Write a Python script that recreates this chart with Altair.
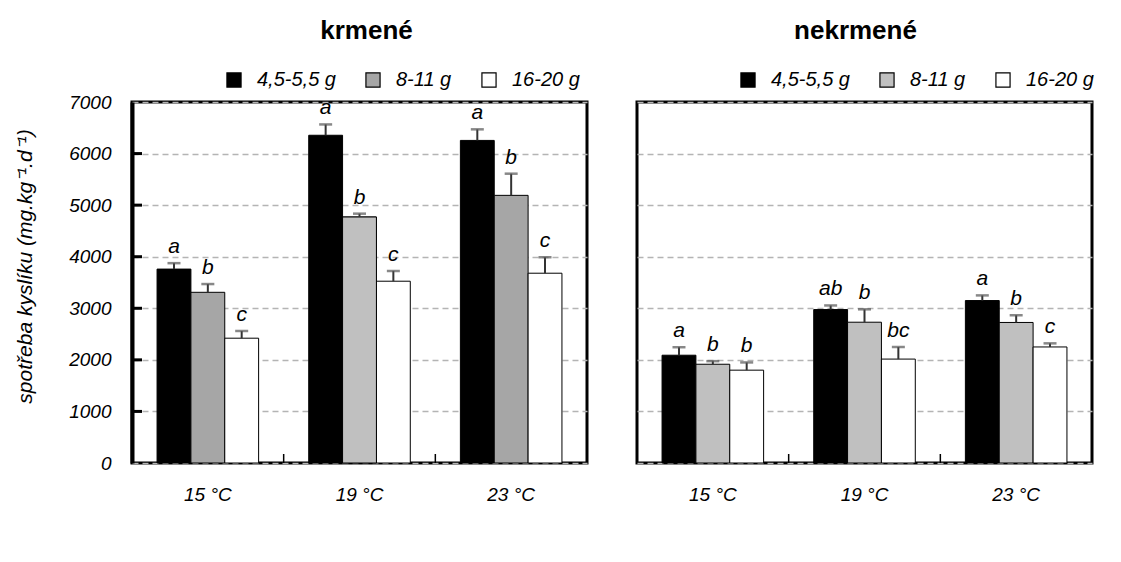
import altair as alt
import pandas as pd

temps = ["15 °C", "19 °C", "23 °C"]
sizes = ["4,5-5,5 g", "8-11 g", "16-20 g"]

fed_means = [[3760, 3310, 2420], [6355, 4770, 3525], [6255, 5190, 3680]]
fed_errs = [[115, 160, 140], [210, 65, 200], [215, 420, 310]]
fed_letters = [["a", "b", "c"], ["a", "b", "c"], ["a", "b", "c"]]

unfed_means = [[2090, 1915, 1800], [2975, 2730, 2015], [3150, 2725, 2250]]
unfed_errs = [[155, 60, 150], [80, 250, 235], [100, 140, 70]]
unfed_letters = [["a", "b", "b"], ["ab", "b", "bc"], ["a", "b", "c"]]

y_ticks = [0, 1000, 2000, 3000, 4000, 5000, 6000, 7000]
inner_ticks = [1000, 2000, 3000, 4000, 5000, 6000]

FONT = "Liberation Sans"
W, H = 455, 361


def make_df(means, errs, letters):
    rows = []
    for i, t in enumerate(temps):
        for j, s in enumerate(sizes):
            rows.append({"temp": t, "size": s, "mean": means[i][j],
                         "top": means[i][j] + errs[i][j], "letter": letters[i][j]})
    return pd.DataFrame(rows)


def panel(df, title, gray, show_y, legend_x, title_dx, extra_gray=None):
    xscale = alt.Scale(domain=temps, paddingInner=0, paddingOuter=0)
    xaxis = alt.Axis(title=None, labelFont=FONT, labelFontStyle="italic", labelFontSize=19,
                     labelColor="black", labelPadding=22, ticks=False, domain=False,
                     labelAngle=0, grid=False)
    yscale = alt.Scale(domain=[0, 7000], nice=False, zero=True)
    if show_y:
        yaxis = alt.Axis(title="spotřeba kyslíku (mg.kg⁻¹.d⁻¹)", titleFont=FONT,
                         titleFontStyle="italic", titleFontWeight="normal", titleFontSize=21,
                         titleColor="black", titlePadding=33, titleY=164,
                         values=y_ticks, format="d", labelFont=FONT, labelFontStyle="italic",
                         labelFontSize=19, labelColor="black", labelPadding=21,
                         ticks=False, domain=True, domainWidth=4, domainColor="black",
                         grid=True, gridDash=[6, 4], gridColor="#b4b4b4", gridWidth=1.5)
    else:
        yaxis = alt.Axis(title=None, labels=False, ticks=False, domain=False,
                         values=y_ticks, grid=True, gridDash=[6, 4], gridColor="#b4b4b4",
                         gridWidth=1.5)

    def X(**kw):
        return alt.X("temp:N", sort=temps, scale=xscale, axis=xaxis, **kw)

    def Y(field):
        return alt.Y(f"{field}:Q", scale=yscale, axis=yaxis)

    xo = alt.XOffset("size:N", sort=sizes,
                     scale=alt.Scale(domain=sizes, paddingInner=0, paddingOuter=0.74))

    color = alt.Color("size:N", sort=sizes,
                      scale=alt.Scale(domain=sizes, range=["#000000", gray, "#ffffff"]),
                      legend=alt.Legend(title=None, orient="none", legendX=legend_x, legendY=-32,
                                        direction="horizontal", labelFont=FONT,
                                        labelFontStyle="italic", labelFontSize=20,
                                        labelColor="black", symbolType="square",
                                        symbolSize=200, symbolStrokeColor="black",
                                        symbolStrokeWidth=1.2, columnPadding=27,
                                        labelOffset=13))

    base = alt.Chart(df)
    bars = base.mark_bar(stroke="black", strokeWidth=1).encode(
        x=X(), xOffset=xo, y=Y("mean"), color=color)
    layers = [bars]
    if extra_gray is not None:
        over = base.transform_filter(
            (alt.datum.temp == "19 °C") & (alt.datum.size == "8-11 g")
        ).mark_bar(stroke="black", strokeWidth=1, fill=extra_gray).encode(
            x=X(), xOffset=xo, y=Y("mean"))
        layers.append(over)
    err = base.mark_rule(color="#333333", strokeWidth=2).encode(
        x=X(), xOffset=xo, y=Y("mean"), y2="top:Q")
    cap = base.mark_tick(color="#555555", orient="horizontal", size=13, thickness=2.5).encode(
        x=X(), xOffset=xo, y=Y("top"))
    txt = base.mark_text(font=FONT, fontStyle="italic", fontSize=21, baseline="bottom",
                         dy=-6, color="black").encode(
        x=X(), xOffset=xo, y=Y("top"), text="letter:N")
    xt = alt.Chart(pd.DataFrame({"temp": temps[1:]})).mark_rule(
        color="black", strokeWidth=1.5).encode(
        x=X(bandPosition=0), y=alt.value(H), y2=alt.value(H - 9))
    layers += [err, cap, txt, xt]
    if show_y:
        yt = alt.Chart(pd.DataFrame({"v": inner_ticks})).mark_rule(
            color="black", strokeWidth=3).encode(
            y=Y("v"), x=alt.value(0), x2=alt.value(10))
        layers.append(yt)
    return alt.layer(*layers).properties(
        width=W, height=H,
        title=alt.TitleParams(title, font=FONT, fontSize=26, fontWeight="bold",
                              color="black", anchor="middle", offset=26, dx=title_dx))


left = panel(make_df(fed_means, fed_errs, fed_letters), "krmené", "#a6a6a6", True, 92, 7,
             extra_gray="#c0c0c0")
right = panel(make_df(unfed_means, unfed_errs, unfed_letters), "nekrmené", "#c0c0c0", False,
              101, -9)

chart = alt.hconcat(left, right, spacing=46).resolve_scale(
    color="independent").resolve_legend(color="independent").configure(
    padding={"left": 13, "top": 16, "right": 10, "bottom": 5}, background="white").configure_view(
    stroke="black", strokeWidth=3)

chart.save("out.html", embed_options={"renderer": "svg", "actions": False})
